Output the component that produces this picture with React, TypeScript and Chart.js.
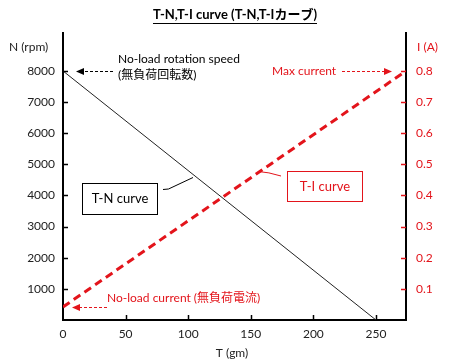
import React, { useEffect, useRef } from 'react';
import { Chart, registerables } from 'chart.js';
Chart.register(...registerables);

const torqueN = [0, 250];
const speedN = [8000, 0];
const torqueI = [0, 274];
const currentI = [0.042, 0.8];
const xTicks = [0, 50, 100, 150, 200, 250];
const nTicks = [1000, 2000, 3000, 4000, 5000, 6000, 7000, 8000];
const iTicks = [0.1, 0.2, 0.3, 0.4, 0.5, 0.6, 0.7, 0.8];

const RED = '#e3141b';
const F = "Lato, 'Noto Sans CJK JP', sans-serif";

function arrow(ctx: CanvasRenderingContext2D, x1: number, x2: number, y: number, color: string) {
  const dir = x2 > x1 ? 1 : -1;
  const headLen = 8;
  ctx.save();
  ctx.strokeStyle = color;
  ctx.fillStyle = color;
  ctx.lineWidth = 1;
  ctx.setLineDash([3, 2]);
  ctx.beginPath();
  ctx.moveTo(x1, y);
  ctx.lineTo(x2 - dir * headLen, y);
  ctx.stroke();
  ctx.setLineDash([]);
  ctx.beginPath();
  ctx.moveTo(x2, y);
  ctx.lineTo(x2 - dir * headLen, y - 3.5);
  ctx.lineTo(x2 - dir * headLen, y + 3.5);
  ctx.closePath();
  ctx.fill();
  ctx.restore();
}

const decor = {
  id: 'decor',
  beforeDraw(chart: any) {
    const ctx = chart.ctx;
    ctx.save();
    ctx.fillStyle = '#fff';
    ctx.fillRect(0, 0, chart.width, chart.height);
    ctx.restore();
  },
  afterDatasetsDraw(chart: any) {
    const ctx: CanvasRenderingContext2D = chart.ctx;
    const xs = chart.scales.x, ys = chart.scales.y, y1 = chart.scales.y1;
    const ca = chart.chartArea;
    ctx.save();
    ctx.lineWidth = 1.5;
    ctx.strokeStyle = '#000';
    nTicks.forEach(v => {
      const y = Math.round(ys.getPixelForValue(v)) + 0.5;
      ctx.beginPath(); ctx.moveTo(ca.left, y); ctx.lineTo(ca.left + 5, y); ctx.stroke();
    });
    xTicks.forEach(v => {
      if (v === 0) return;
      const x = Math.round(xs.getPixelForValue(v)) + 0.5;
      ctx.beginPath(); ctx.moveTo(x, ca.bottom); ctx.lineTo(x, ca.bottom - 5); ctx.stroke();
    });
    ctx.strokeStyle = RED;
    iTicks.forEach(v => {
      const y = Math.round(y1.getPixelForValue(v)) + 0.5;
      ctx.beginPath(); ctx.moveTo(ca.right, y); ctx.lineTo(ca.right - 5, y); ctx.stroke();
    });

    ctx.fillStyle = '#000';
    ctx.font = `bold 13px ${F}`;
    ctx.textAlign = 'center';
    ctx.textBaseline = 'middle';
    const title = 'T-N,T-I curve (T-N,T-Iカーブ)';
    ctx.fillText(title, 235, 15);
    const tw = ctx.measureText(title).width;
    ctx.lineWidth = 1;
    ctx.strokeStyle = '#000';
    ctx.beginPath(); ctx.moveTo(235 - tw / 2, 23.5); ctx.lineTo(235 + tw / 2, 23.5); ctx.stroke();

    ctx.font = `12px ${F}`;
    ctx.textAlign = 'left';
    ctx.fillStyle = '#222';
    ctx.fillText('N (rpm)', 9, 47);
    ctx.fillStyle = RED;
    ctx.fillText('I (A)', 417, 47);
    ctx.fillStyle = '#222';
    ctx.textAlign = 'center';
    ctx.fillText('T (gm)', 232, 353);

    const yN = ys.getPixelForValue(speedN[0]);
    ctx.textAlign = 'left';
    ctx.fillStyle = '#000';
    ctx.font = `12px ${F}`;
    ctx.fillText('No-load rotation speed', 118, 59);
    ctx.fillText('(無負荷回転数)', 118, 75);
    arrow(ctx, 113, 76, Math.round(yN) + 0.5, '#000');

    const yI = y1.getPixelForValue(currentI[1]);
    ctx.fillStyle = RED;
    ctx.fillText('Max current', 272, Math.round(yI));
    arrow(ctx, 342, 392, Math.round(yI) + 0.5, RED);

    const yI0 = y1.getPixelForValue(currentI[0]);
    ctx.fillStyle = RED;
    ctx.fillText('No-load current (無負荷電流)', 107, 298);
    arrow(ctx, 107, 72, Math.round(yI0) + 0.5, RED);

    ctx.lineWidth = 1;
    ctx.strokeStyle = '#000';
    ctx.fillStyle = '#fff';
    ctx.fillRect(82, 183, 75, 31);
    ctx.strokeRect(82.5, 183.5, 75, 31);
    ctx.fillStyle = '#000';
    ctx.textAlign = 'center';
    ctx.font = `13px ${F}`;
    ctx.fillText('T-N curve', 120, 199);
    ctx.beginPath();
    ctx.moveTo(163, 189.5); ctx.lineTo(168.5, 189); ctx.lineTo(193, 177.5);
    ctx.stroke();

    ctx.strokeStyle = RED;
    ctx.fillStyle = '#fff';
    ctx.fillRect(287, 171, 75, 30);
    ctx.strokeRect(287.5, 171.5, 75, 30);
    ctx.fillStyle = RED;
    ctx.fillText('T-I curve', 325, 186.5);
    ctx.beginPath();
    ctx.moveTo(281, 176); ctx.quadraticCurveTo(268, 172, 258.5, 171.5);
    ctx.stroke();
    ctx.restore();
  },
};

export default function App() {
  const ref = useRef<HTMLCanvasElement>(null);
  useEffect(() => {
    if (!ref.current) return;
    const chart = new Chart(ref.current, {
      type: 'line',
      data: {
        datasets: [
          {
            label: 'T-N',
            data: torqueN.map((t, i) => ({ x: t, y: speedN[i] })),
            borderColor: '#222',
            borderWidth: 1,
            pointRadius: 0,
            yAxisID: 'y',
          },
          {
            label: 'T-I',
            data: torqueI.map((t, i) => ({ x: t, y: currentI[i] })),
            borderColor: RED,
            borderWidth: 3,
            borderDash: [8, 5],
            pointRadius: 0,
            yAxisID: 'y1',
          },
        ],
      },
      options: {
        responsive: false,
        animation: false,
        layout: { padding: { top: 33, left: 0, right: 0, bottom: 0 } },
        plugins: { legend: { display: false }, tooltip: { enabled: false }, title: { display: false } },
        scales: {
          x: {
            type: 'linear',
            position: 'bottom',
            min: 0,
            max: 274,
            grid: { display: false, drawTicks: false },
            border: { display: true, color: '#000', width: 2 },
            ticks: { color: '#222', font: { family: F, size: 12 }, padding: 7, maxRotation: 0, callback: (v: any) => String(v) },
            afterBuildTicks: (s: any) => { s.ticks = xTicks.map(v => ({ value: v })); },
            afterFit: (s: any) => { s.height = 44; },
          },
          y: {
            type: 'linear',
            position: 'left',
            min: 0,
            max: 9220,
            grid: { display: false, drawTicks: false },
            border: { display: true, color: '#000', width: 2 },
            ticks: { color: '#222', font: { family: F, size: 12 }, padding: 8, callback: (v: any) => String(v) },
            afterBuildTicks: (s: any) => { s.ticks = nTicks.map(v => ({ value: v })); },
            afterFit: (s: any) => { s.width = 63; },
          },
          y1: {
            type: 'linear',
            position: 'right',
            min: 0,
            max: 0.922,
            grid: { display: false, drawTicks: false },
            border: { display: true, color: '#000', width: 2 },
            ticks: { color: RED, font: { family: F, size: 12 }, padding: 10, callback: (v: any) => Number(v).toFixed(1) },
            afterBuildTicks: (s: any) => { s.ticks = iTicks.map(v => ({ value: v })); },
            afterFit: (s: any) => { s.width = 50; },
          },
        },
      },
      plugins: [decor],
    });
    return () => chart.destroy();
  }, []);
  return (
    <div style={{ position: 'fixed', left: 0, top: 0, width: 456, height: 364, background: '#fff' }}>
      <canvas ref={ref} width={456} height={364} />
    </div>
  );
}
